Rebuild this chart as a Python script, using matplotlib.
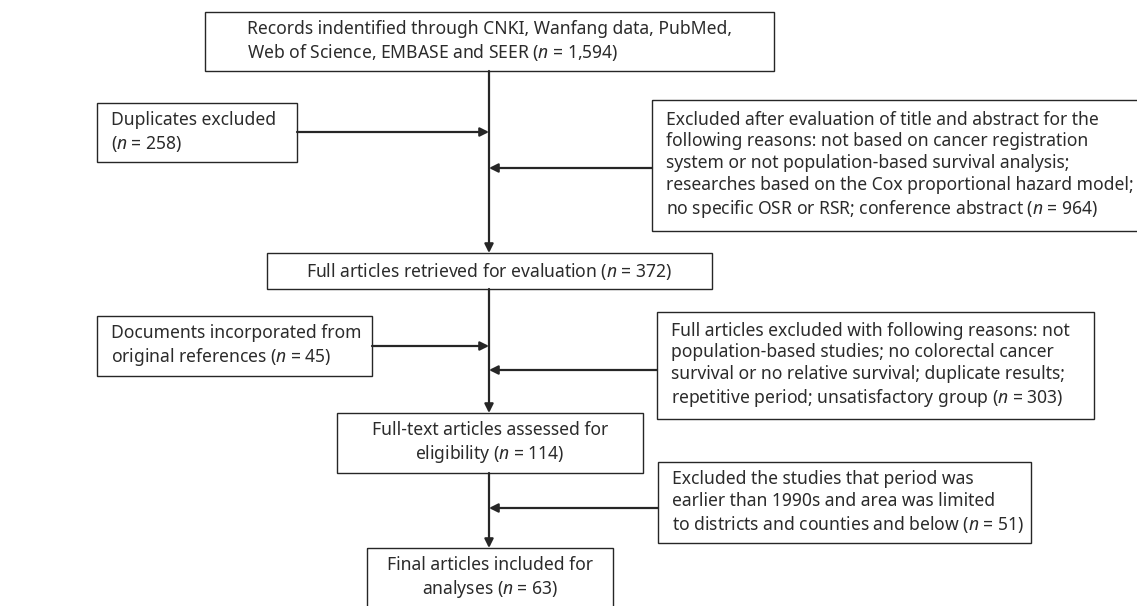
import matplotlib
matplotlib.use('Agg')
import matplotlib.pyplot as plt
from matplotlib.patches import Rectangle

plt.rcParams['font.family'] = ['Noto Sans', 'DejaVu Sans']
plt.rcParams['mathtext.fontset'] = 'custom'
plt.rcParams['mathtext.rm'] = 'Noto Sans'
plt.rcParams['mathtext.it'] = 'Noto Sans:italic'

# record counts at each step of the flow
counts = ['1,594', '258', '964', '372', '45', '303', '114', '51', '63']

labels = [
    'Records indentified through CNKI, Wanfang data, PubMed,\n'
    'Web of Science, EMBASE and SEER ($n$ = {})',
    'Duplicates excluded\n($n$ = {})',
    'Excluded after evaluation of title and abstract for the\n'
    'following reasons: not based on cancer registration\n'
    'system or not population-based survival analysis;\n'
    'researches based on the Cox proportional hazard model;\n'
    'no specific OSR or RSR; conference abstract ($n$ = {})',
    'Full articles retrieved for evaluation ($n$ = {})',
    'Documents incorporated from\noriginal references ($n$ = {})',
    'Full articles excluded with following reasons: not\n'
    'population-based studies; no colorectal cancer\n'
    'survival or no relative survival; duplicate results;\n'
    'repetitive period; unsatisfactory group ($n$ = {})',
    'Full-text articles assessed for\neligibility ($n$ = {})',
    'Excluded the studies that period was\n'
    'earlier than 1990s and area was limited\n'
    'to districts and counties and below ($n$ = {})',
    'Final articles included for\nanalyses ($n$ = {})',
]

# box layout in pixels: left, top, right, bottom, text mode
layout = [
    (205, 12, 774, 71, 'block'),
    (97, 103, 297, 162, 'left'),
    (652, 100, 1160, 231, 'left'),
    (267, 253, 712, 289, 'center'),
    (97, 316, 372, 376, 'left'),
    (657, 312, 1094, 419, 'left'),
    (337, 413, 643, 473, 'center'),
    (658, 462, 1031, 543, 'left'),
    (367, 548, 613, 608, 'center'),
]

W, H = 1137, 606
fig = plt.figure(figsize=(W / 100, H / 100), dpi=100)
ax = fig.add_axes([0, 0, 1, 1])
ax.set_xlim(0, W)
ax.set_ylim(H, 0)
ax.axis('off')

fs = 12.6
ls = 1.27
txt_col = '#2b2b2b'
line_col = '#262626'

for (l, t, r, b, mode), lab, n in zip(layout, labels, counts):
    ax.add_patch(Rectangle((l, t), r - l, b - t, fill=False,
                           edgecolor=line_col, lw=1.0))
    s = lab.replace('{}', n)
    cy = (t + b) / 2
    if mode == 'left':
        ax.text(l + 14, cy, s, ha='left', va='center', fontsize=fs,
                color=txt_col, linespacing=ls)
    elif mode == 'block':
        ax.text((l + r) / 2, cy, s, ha='center', va='center',
                multialignment='left', fontsize=fs, color=txt_col,
                linespacing=ls)
    else:
        ax.text((l + r) / 2, cy, s, ha='center', va='center', fontsize=fs,
                color=txt_col, linespacing=ls)

mx = 489
arrow = dict(arrowstyle='-|>', color=line_col, lw=1.6, mutation_scale=13,
             shrinkA=0, shrinkB=0)

# main vertical flow
for y0, y1 in [(71, 253), (289, 413), (473, 548)]:
    ax.annotate('', xy=(mx, y1), xytext=(mx, y0), arrowprops=arrow)

# side arrows into the main line
for x0, y in [(297, 132), (652, 168), (372, 346), (657, 370), (658, 508)]:
    ax.annotate('', xy=(mx, y), xytext=(x0, y), arrowprops=arrow)

fig.savefig('out.png', dpi=100)
